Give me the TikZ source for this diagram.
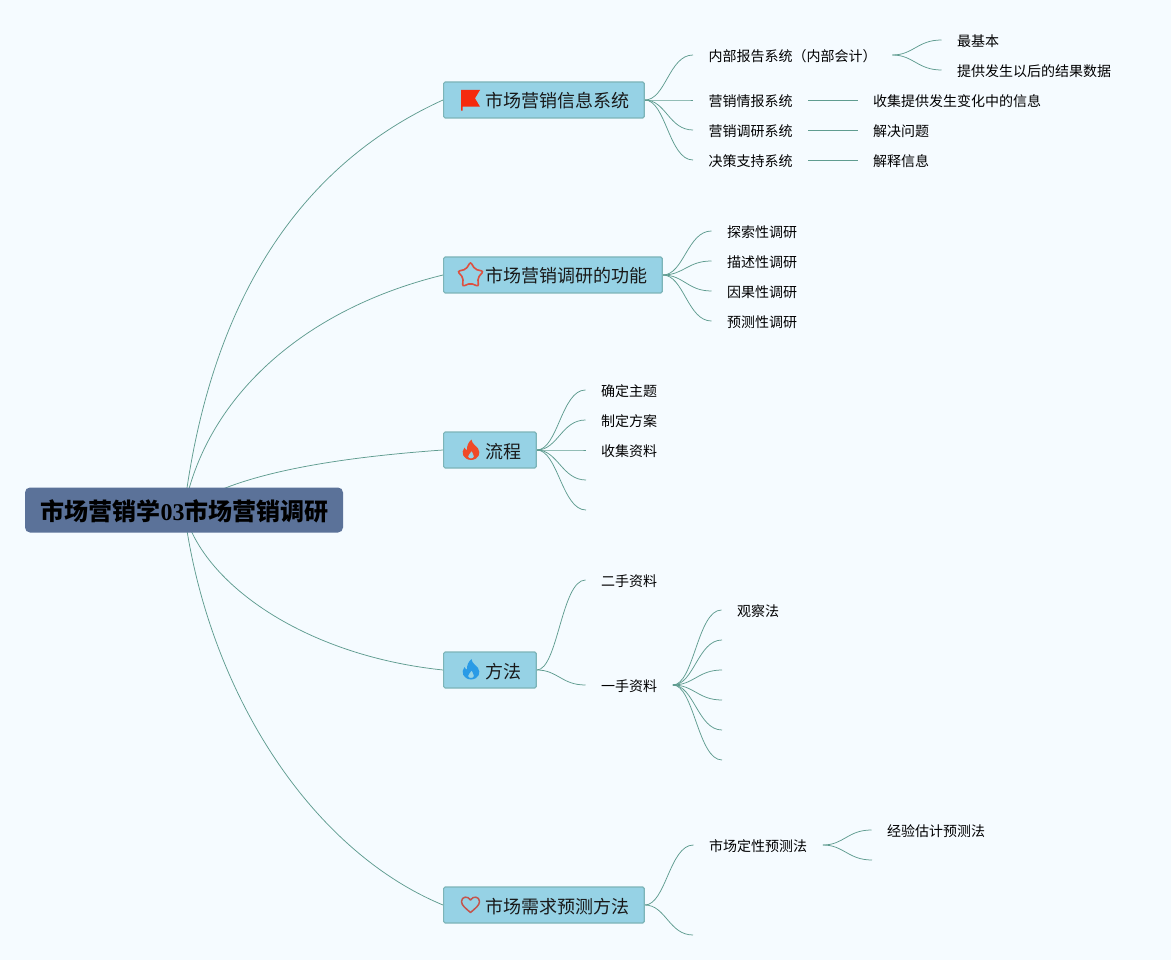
\documentclass[tikz,border=0pt]{standalone}
\usepackage{fontspec}
\setmainfont{Noto Sans CJK SC}
\newfontfamily\digitfont{Liberation Serif}
\usetikzlibrary{backgrounds,shapes.geometric}
\definecolor{pagebg}{HTML}{F5FBFF}
\definecolor{linkcol}{HTML}{5F9C90}
\definecolor{topicfill}{HTML}{96D2E5}
\definecolor{topicedge}{HTML}{7CB4B8}
\definecolor{rootfill}{HTML}{5B7299}
\definecolor{flagred}{HTML}{F52A0E}
\definecolor{starred}{HTML}{DD5040}
\definecolor{flamered}{HTML}{F04A28}
\definecolor{flameblue}{HTML}{2A9BE6}
\definecolor{heartred}{HTML}{C4544C}
\tikzset{
  x=1pt,y=-1pt,
  rootnode/.style={draw=none,fill=rootfill,rounded corners=5pt,minimum width=318pt,minimum height=45pt,inner sep=0pt,font=\fontsize{24}{28}\selectfont\bfseries,text=black,text height=21pt,text depth=0pt},
  topic/.style={draw=topicedge,line width=1.2pt,fill=topicfill,rounded corners=1.5pt,minimum height=36pt,inner sep=0pt,anchor=west,font=\fontsize{18}{22}\selectfont,text=black!90,text height=16pt,text depth=0pt,
    execute at begin node=\hspace*{41.6pt},execute at end node=\hspace*{15pt}},
  leaf/.style={anchor=west,inner xsep=15.5pt,inner ysep=0pt,font=\fontsize{14}{17}\selectfont,text=black,text height=13pt,text depth=0pt},
  link/.style={draw=linkcol,line width=0.75pt},
  branch/.style={link,to path={.. controls +(21,0) and +(-24,0) .. (\tikztotarget)}},
  flameicon/.pic={
    \fill[#1,even odd rule] (0.5,-11) .. controls (1,-6.5) and (4.5,-5.5) .. (7,-2)
      .. controls (10,2.5) and (8,9) .. (0,9.5)
      .. controls (-8,9) and (-10.5,2) .. (-6.5,-3)
      .. controls (-6,-1.5) and (-5,-0.5) .. (-3.8,-0.5)
      .. controls (-4.5,-4.5) and (-2.5,-8.5) .. (0.5,-11) -- cycle
      (0.5,0.5) .. controls (0.5,2) and (3.5,3.5) .. (3,6)
      .. controls (2.5,8.6) and (-2.5,8.6) .. (-3,6)
      .. controls (-3,4.5) and (-0.8,3) .. (0.5,0.5) -- cycle;
  }
}
\begin{document}
\begin{tikzpicture}
\useasboundingbox (0,0) rectangle (1171,960);
% nodes
\node[rootnode] (root) at (184,510) {\hspace*{1.5pt}市场营销学{\digitfont 03}市场营销调研};
\node[topic] (t1) at (443,100) {市场营销信息系统};
\node[topic] (t2) at (443,275) {市场营销调研的功能};
\node[topic] (t3) at (443,450) {流程};
\node[topic] (t4) at (443,670) {方法};
\node[topic] (t5) at (443,905) {市场需求预测方法};

\node[leaf] (a1) at (693,55) {内部报告系统（内部会计）};
\node[leaf] (a2) at (693,100) {营销情报系统};
\node[leaf] (a3) at (693,130) {营销调研系统};
\node[leaf] (a4) at (693,160) {决策支持系统};
\node[leaf] (a11) at (941.5,40) {最基本};
\node[leaf] (a12) at (941.5,70) {提供发生以后的结果数据};
\node[leaf] (a21) at (857.5,100) {收集提供发生变化中的信息};
\node[leaf] (a31) at (857.5,130) {解决问题};
\node[leaf] (a41) at (857.5,160) {解释信息};

\node[leaf] (b1) at (711.5,231) {探索性调研};
\node[leaf] (b2) at (711.5,261) {描述性调研};
\node[leaf] (b3) at (711.5,291) {因果性调研};
\node[leaf] (b4) at (711.5,321) {预测性调研};

\node[leaf] (c1) at (585.5,390) {确定主题};
\node[leaf] (c2) at (585.5,420) {制定方案};
\node[leaf] (c3) at (585.5,450) {收集资料};
\coordinate (c4) at (586,480);
\coordinate (c5) at (586,510);

\node[leaf] (d1) at (585.5,580) {二手资料};
\node[leaf] (d2) at (585.5,685) {一手资料};
\node[leaf] (d21) at (721.5,610) {观察法};
\coordinate (d22) at (722,640);
\coordinate (d23) at (722,670);
\coordinate (d24) at (722,700);
\coordinate (d25) at (722,730);
\coordinate (d26) at (722,760);

\node[leaf] (e1) at (693.5,845) {市场定性预测法};
\coordinate (e2) at (693,935);
\node[leaf] (e11) at (871.5,830) {经验估计预测法};
\coordinate (e12) at (872,860);

% icons
\fill[flagred] (461,90) -- (480,90) -- (475,98.3) -- (480,106.7) -- (462.5,106.7) -- (462.5,110.7) -- (461,110.7) -- cycle;
\node[star,star points=5,star point ratio=1.75,draw=starred,line width=1.6pt,rounded corners=2pt,minimum size=27pt,inner sep=0pt] (staricon) at (470.5,275.5) {};
\pic at (471,450.5) {flameicon=flamered};
\pic at (471,670) {flameicon=flameblue};
\draw[heartred,line width=1.5pt,line join=round] (470.5,912.5)
  .. controls (466,908.5) and (461.5,905.5) .. (461.5,901.5)
  .. controls (461.5,896.5) and (468,895.5) .. (470.5,900)
  .. controls (473,895.5) and (479.5,896.5) .. (479.5,901.5)
  .. controls (479.5,905.5) and (475,908.5) .. (470.5,912.5) -- cycle;

% connectors and page
\begin{scope}[on background layer]
\fill[pagebg] (0,0) rectangle (1171,960);
\draw[link] (root.center) .. controls (210,300) and (300,165) .. (t1.west);
\draw[link] (root.center) .. controls (205,400) and (300,310) .. (t2.west);
\draw[link] (root.center) .. controls (230,475) and (330,458) .. (t3.west);
\draw[link] (root.center) .. controls (200,580) and (300,655) .. (t4.west);
\draw[link] (root.center) .. controls (207,690) and (310,850) .. (t5.west);
\foreach \s/\e in {t1.east/a1.west,t1.east/a2.west,t1.east/a3.west,t1.east/a4.west,
  a1.east/a11.west,a1.east/a12.west,
  t2.east/b1.west,t2.east/b2.west,t2.east/b3.west,t2.east/b4.west,
  t3.east/c1.west,t3.east/c2.west,t3.east/c3.west,t3.east/c4,t3.east/c5,
  t4.east/d1.west,t4.east/d2.west,
  d2.east/d21.west,d2.east/d22,d2.east/d23,d2.east/d24,d2.east/d25,d2.east/d26,
  t5.east/e1.west,t5.east/e2,
  e1.east/e11.west,e1.east/e12}
  \draw[branch] (\s) to (\e);
\draw[link] (a2.east) -- (a21.west);
\draw[link] (a3.east) -- (a31.west);
\draw[link] (a4.east) -- (a41.west);
\end{scope}
\end{tikzpicture}
\end{document}
